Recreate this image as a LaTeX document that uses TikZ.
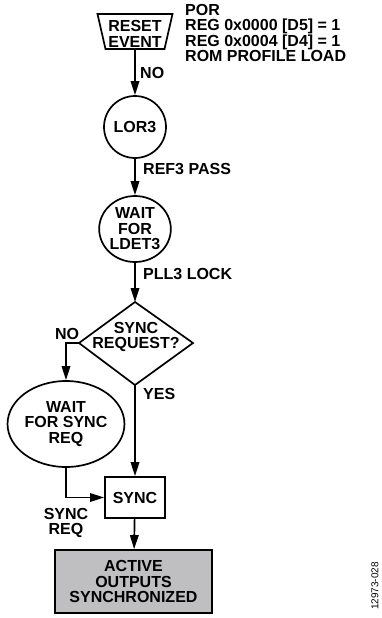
\documentclass[tikz,border=0pt]{standalone}
\usepackage{fontspec}
\setmainfont{Liberation Sans}
\usetikzlibrary{arrows.meta,shapes.geometric}
\definecolor{boxgray}{RGB}{191,191,193}
\begin{document}
\begin{tikzpicture}[x=1pt,y=-1pt,
  txt/.style={font=\bfseries\fontsize{16}{15.5}\selectfont, inner sep=0pt, align=center},
  ln/.style={line width=1.7pt},
  arr/.style={line width=1.7pt,-{Triangle[length=14pt,width=8.5pt]}},
  oval/.style={draw,line width=1.7pt,ellipse,inner sep=0pt,txt},
  boxx/.style={draw,line width=1.7pt,inner sep=0pt,txt},
]
\useasboundingbox (0,0) rectangle (381,618);
% reset event trapezoid
\draw[ln,line join=miter] (97.5,14) -- (172.5,14) -- (164.5,49) -- (105.5,49) -- cycle;
\node[txt] (reset) at (135,33.7) {RESET\\EVENT};
\coordinate (resetb) at (135,49);
\node[txt,align=left,anchor=north west] (por) at (185,4) {POR\\REG 0x0000 [D5] = 1\\REG 0x0004 [D4] = 1\\ROM PROFILE LOAD};
% states
\node[oval,minimum width=62pt,minimum height=62pt] (lor) at (135,127) {LOR3};
\node[oval,minimum width=69pt,minimum height=66pt] (ldet) at (135,229) {WAIT\\FOR\\LDET3};
% decision diamond
\coordinate (decT) at (135,302);
\coordinate (decR) at (193,343);
\coordinate (decB) at (135,385);
\coordinate (decL) at (79,343);
\draw[ln,line join=miter] (decT) -- (decR) -- (decB) -- (decL) -- cycle;
\node[txt] (dec) at (136,337) {SYNC\\REQUEST?};
\node[oval,minimum width=96pt,minimum height=86pt] (wsr) at (66,424) {WAIT\\FOR SYNC\\REQ};
\node[boxx,minimum width=60pt,minimum height=41pt] (sync) at (135,497.5) {SYNC};
\node[boxx,fill=boxgray,minimum width=157pt,minimum height=63pt] (act) at (133.5,581.5) {ACTIVE\\OUTPUTS\\SYNCHRONIZED};
% connectors
\draw[arr] (resetb) -- (lor);
\draw[arr] (lor) -- (ldet);
\draw[arr] (ldet) -- (decT);
\draw[arr] (decL) -| (wsr);
\draw[arr] (decB) -- (sync);
\draw[arr] (wsr) |- (sync);
\draw[arr] (sync) -- (act);
% labels
\node[txt,anchor=west] (lno1) at (140,73) {NO};
\node[txt,anchor=west] (lref) at (143,169) {REF3 PASS};
\node[txt,anchor=west] (lpll) at (143,274) {PLL3 LOCK};
\node[txt] (lno2) at (67,334) {NO};
\node[txt,anchor=west] (lyes) at (143,394) {YES};
\node[txt] (lsreq) at (66,523) {SYNC\\REQ};
\node[font=\fontsize{10}{12}\selectfont,inner sep=0pt,rotate=90] (code) at (375,586) {12973-028};
\end{tikzpicture}
\end{document}
